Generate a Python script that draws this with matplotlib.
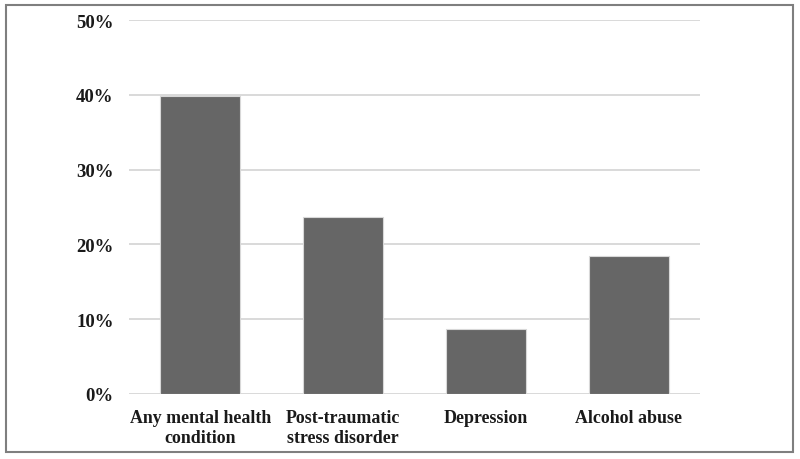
import matplotlib
matplotlib.use("Agg")
import matplotlib.pyplot as plt
from matplotlib.patches import Rectangle

categories = ["Any mental health\ncondition", "Post-traumatic\nstress disorder", "Depression", "Alcohol abuse"]
values = [39.9, 23.7, 8.7, 18.5]
yticks = [0, 10, 20, 30, 40, 50]
ytick_labels = ["0%", "10%", "20%", "30%", "40%", "50%"]

plt.rcParams['font.family'] = ['Liberation Serif', 'DejaVu Serif']

fig = plt.figure(figsize=(8, 4.6), dpi=100)
fig.patches.append(Rectangle((6/800, 7/460), 787/800, 447/460, transform=fig.transFigure,
                             fill=False, edgecolor='#7f7f7f', linewidth=1.5))
ax = fig.add_axes([129/800, 65/460, 571/800, 374/460])
x = range(len(categories))
ax.bar(x, values, width=0.56, color='#666666', edgecolor='#d8d8d8', linewidth=0.8, zorder=3)
ax.set_xlim(-0.5, 3.5)
ax.set_ylim(0, 50)
ax.set_yticks(yticks)
ax.set_yticklabels(ytick_labels)
ax.set_xticks(list(x))
ax.set_xticklabels(categories)
for lab in ax.get_xticklabels():
    lab.set_fontweight('bold')
    lab.set_fontsize(12.9)
    lab.set_color('#1a1a1a')
for lab in ax.get_yticklabels():
    lab.set_fontweight('bold')
    lab.set_fontsize(13.5)
    lab.set_color('#1a1a1a')
ax.tick_params(axis='y', length=0, pad=11)
ax.tick_params(axis='x', length=0, pad=11)
ax.grid(axis='y', color='#d9d9d9', linewidth=1.4, zorder=0)
for s in ax.spines.values():
    s.set_visible(False)
fig.savefig("out.png", dpi=100)
